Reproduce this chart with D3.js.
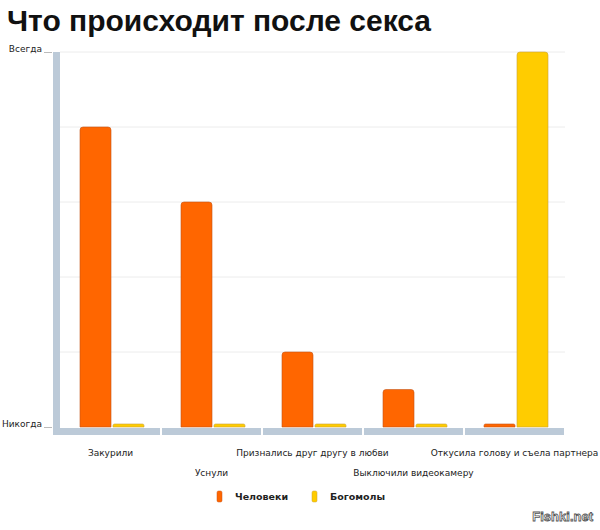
<!DOCTYPE html>
<html>
<head>
<meta charset="utf-8">
<script src="https://cdn.jsdelivr.net/npm/d3@7"></script>
<style>
  body { margin: 0; background: #fff; }
  text { font-family: "DejaVu Sans", Verdana, sans-serif; }
</style>
</head>
<body>
<div id="chart"></div>
<script>
// data (scale 0 = Никогда, 5 = Всегда)
const categories = ["Закурили", "Уснули", "Признались друг другу в любви", "Выключили видеокамеру", "Откусила голову и съела партнера"];
const seriesNames = ["Человеки", "Богомолы"];
const humans = [4, 3, 1, 0.5, 0.04];
const mantises = [0.04, 0.04, 0.04, 0.04, 5];
const tickValues = [0, 1, 2, 3, 4, 5];
const tickLabels = { 0: "Никогда", 5: "Всегда" };

const colors = { "Человеки": "#ff6600", "Богомолы": "#ffcc00" };
const edge = { "Человеки": "#c4561a", "Богомолы": "#c9a23a" };

const W = 600, H = 530;
const svg = d3.select("#chart").append("svg")
    .attr("width", W)
    .attr("height", H);

// title
svg.append("text")
    .attr("x", 7)
    .attr("y", 31)
    .style("font-family", "'Liberation Sans', Arial, sans-serif")
    .style("font-size", "30px")
    .style("font-weight", "bold")
    .attr("fill", "#111")
    .text("Что происходит после секса");

const x = d3.scaleBand()
    .domain(categories)
    .range([60, 565]);

const xInner = d3.scaleBand()
    .domain(seriesNames)
    .range([20, 84])
    .paddingInner(0.06);

const y = d3.scaleLinear()
    .domain([0, 5])
    .range([427, 52]);

// gridlines
svg.append("g")
    .selectAll("line")
    .data(tickValues.filter(d => d > 0))
    .join("line")
    .attr("x1", 60)
    .attr("x2", 565)
    .attr("y1", d => y(d))
    .attr("y2", d => y(d))
    .attr("stroke", "#ececec")
    .attr("stroke-width", 1);

// axis background bars
const axisColor = "#bccad8";
svg.append("rect")
    .attr("x", 53).attr("y", y(5))
    .attr("width", 7).attr("height", y(0) - y(5) + 8)
    .attr("fill", axisColor);

svg.append("g")
    .selectAll("rect")
    .data(categories)
    .join("rect")
    .attr("x", (d, i) => i === 0 ? 53 : x(d) + 1)
    .attr("y", y(0) + 1)
    .attr("width", (d, i) => i === 0 ? x(d) + x.bandwidth() - 53 - 1 : x.bandwidth() - 2)
    .attr("height", 7)
    .attr("fill", axisColor);

// y axis labels
const yAxis = svg.append("g")
    .attr("transform", "translate(52,0)")
    .call(d3.axisLeft(y).tickValues([0, 5]).tickSize(8).tickPadding(2).tickFormat(d => tickLabels[d]));
yAxis.select(".domain").remove();
yAxis.selectAll(".tick line").attr("stroke", "#bbb");
yAxis.selectAll(".tick text")
    .style("font-size", "9px")
    .attr("fill", "#222")
    .attr("dy", "-0.1em");

// bars
const groups = svg.append("g")
    .selectAll("g")
    .data(categories.map((c, i) => ({ c, vals: [
        { key: "Человеки", v: humans[i] },
        { key: "Богомолы", v: mantises[i] }
    ] })))
    .join("g")
    .attr("transform", d => `translate(${x(d.c)},0)`);

groups.selectAll("path")
    .data(d => d.vals)
    .join("path")
    .attr("d", d => {
        const x0 = xInner(d.key), w = xInner.bandwidth();
        const y0 = y(d.v), y1 = y(0);
        const r = Math.min(3, (y1 - y0) / 2);
        return `M${x0},${y1} V${y0 + r} Q${x0},${y0} ${x0 + r},${y0} H${x0 + w - r} Q${x0 + w},${y0} ${x0 + w},${y0 + r} V${y1} Z`;
    })
    .attr("fill", d => colors[d.key])
    .attr("stroke", d => edge[d.key])
    .attr("stroke-width", 0.6);

// x labels, staggered
svg.append("g")
    .selectAll("text")
    .data(categories)
    .join("text")
    .attr("x", d => x(d) + x.bandwidth() / 2)
    .attr("y", (d, i) => i % 2 === 0 ? 456 : 476)
    .attr("text-anchor", "middle")
    .style("font-size", "9px")
    .attr("fill", "#222")
    .text(d => d);

// legend
const legend = svg.append("g")
    .selectAll("g")
    .data(seriesNames)
    .join("g")
    .attr("transform", (d, i) => `translate(${217 + i * 95},491)`);

legend.append("rect")
    .attr("width", 5)
    .attr("height", 11)
    .attr("rx", 1.5)
    .attr("fill", d => colors[d])
    .attr("stroke", d => edge[d])
    .attr("stroke-width", 0.5);

legend.append("text")
    .attr("x", 18)
    .attr("y", 9)
    .style("font-size", "9.5px")
    .style("font-weight", "bold")
    .attr("fill", "#222")
    .text(d => d);

// watermark
svg.append("text")
    .attr("x", 593)
    .attr("y", 521)
    .attr("text-anchor", "end")
    .style("font-family", "'Liberation Sans', Arial, sans-serif")
    .style("font-size", "13px")
    .style("font-weight", "bold")
    .attr("fill", "#fff")
    .attr("stroke", "#555")
    .attr("stroke-width", 0.8)
    .text("Fishki.net");
</script>
</body>
</html>
